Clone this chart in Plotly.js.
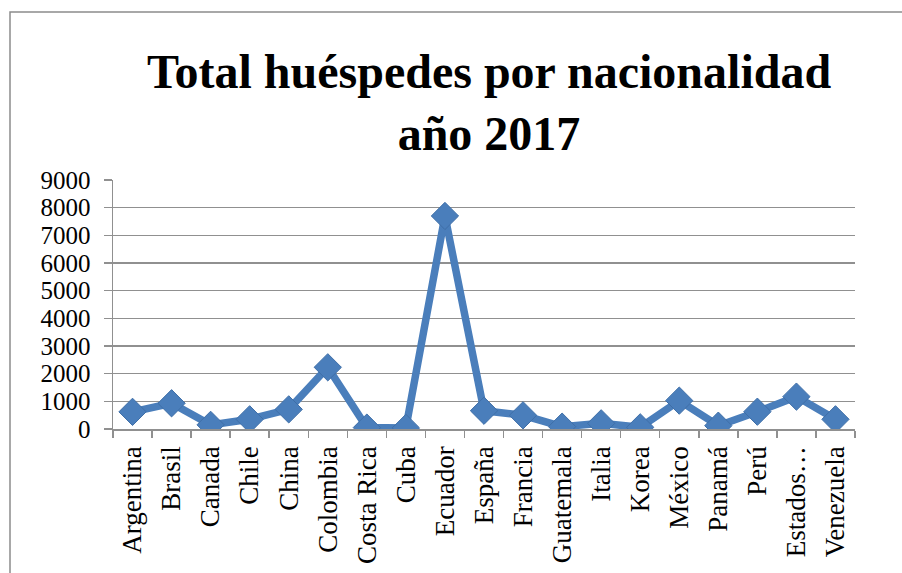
<!DOCTYPE html>
<html>
<head>
<meta charset="utf-8">
<script src="https://cdn.plot.ly/plotly-3.0.1.min.js"></script>
<style>html,body{margin:0;padding:0;background:#fff;}#chart{width:902px;height:573px;}</style>
</head>
<body>
<div id="chart"></div>
<script>
const categories = ["Argentina","Brasil","Canada","Chile","China","Colombia","Costa Rica","Cuba","Ecuador","España","Francia","Guatemala","Italia","Korea","México","Panamá","Perú","Estados Unidos","Venezuela"];
const tickLabels = ["Argentina","Brasil","Canada","Chile","China","Colombia","Costa Rica","Cuba","Ecuador","España","Francia","Guatemala","Italia","Korea","México","Panamá","Perú","Estados…","Venezuela"];
const huespedes = [620, 930, 150, 350, 710, 2230, 50, 40, 7700, 660, 495, 85, 205, 60, 1025, 120, 625, 1170, 350];
const yTicks = [0,1000,2000,3000,4000,5000,6000,7000,8000,9000];

const L = 113, R = 855, T = 180, B = 429, W = 902, H = 573;
const px2x = p => (p - L) / (R - L);
const px2y = p => (B - p) / (B - T);

const trace = {
  type: 'scatter',
  mode: 'lines+markers',
  x: categories,
  y: huespedes,
  line: {color: '#4a7ebb', width: 7.5},
  marker: {symbol: 'diamond', size: 21, color: '#4a7ebb', line: {color: '#3f6fa8', width: 1}},
  hoverinfo: 'x+y'
};

const font = "'Liberation Serif', 'Times New Roman', serif";
const layout = {
  width: W, height: H,
  margin: {l: L, r: W - R, t: T, b: H - B},
  paper_bgcolor: '#fff', plot_bgcolor: '#fff',
  showlegend: false,
  font: {family: font, color: '#000', size: 25},
  title: {
    text: '<b>Total huéspedes por nacionalidad<br>año 2017</b>',
    font: {family: font, size: 48, color: '#000'},
    x: px2x(489), xref: 'paper', xanchor: 'center',
    y: 1 - 88 / H, yref: 'container', yanchor: 'top'
  },
  xaxis: {
    type: 'category',
    range: [-0.5, categories.length - 0.5],
    tickmode: 'array', tickvals: categories, ticktext: tickLabels,
    tickangle: -90,
    tickson: 'boundaries',
    ticks: 'outside', ticklen: 7, tickwidth: 1.5, tickcolor: '#909090',
    ticklabelstandoff: 5,
    showline: true, linecolor: '#909090', linewidth: 1.5,
    showgrid: false, zeroline: false,
    tickfont: {family: font, size: 27, color: '#000'},
    fixedrange: true
  },
  yaxis: {
    range: [0, 9000],
    tickmode: 'array', tickvals: yTicks, ticktext: yTicks.map(String),
    ticks: 'outside', ticklen: 8, tickwidth: 1.5, tickcolor: '#909090',
    ticklabelstandoff: 8,
    showline: true, linecolor: '#909090', linewidth: 1.5,
    showgrid: true, gridcolor: '#909090', gridwidth: 1.5,
    zeroline: false,
    tickfont: {family: font, size: 25, color: '#000'},
    fixedrange: true
  },
  shapes: [{
    type: 'path', xref: 'paper', yref: 'paper',
    path: `M ${px2x(10)} ${px2y(H + 5)} L ${px2x(10)} ${px2y(12)} L ${px2x(W + 5)} ${px2y(12)}`,
    line: {color: '#8c8c8c', width: 1.5}
  }]
};

Plotly.newPlot('chart', [trace], layout, {displayModeBar: false, staticPlot: true});
</script>
</body>
</html>
